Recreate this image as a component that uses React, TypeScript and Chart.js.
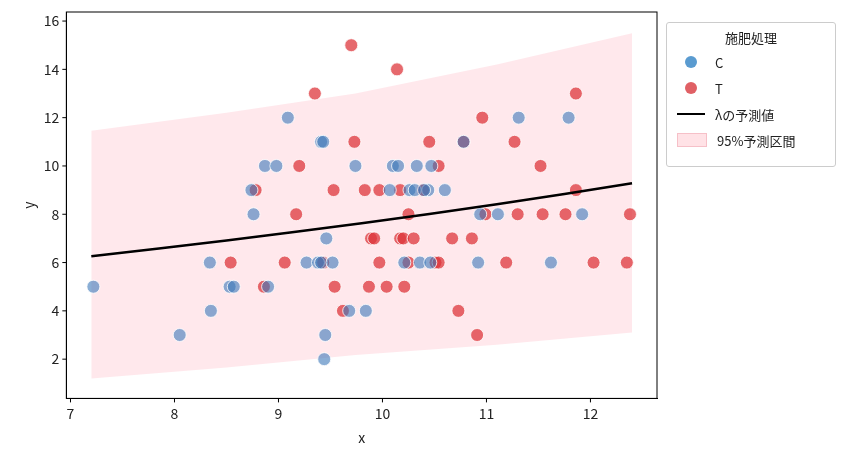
import React, { useEffect, useRef } from "react";
import { Chart, registerables } from "chart.js";
Chart.register(...registerables);

const cX = [9.09,11.31,11.79,9.41,9.43,8.87,8.98,9.74,10.10,10.15,10.33,10.47,8.74,10.07,10.26,10.31,10.44,10.60,8.76,10.94,11.11,11.92,9.46,8.34,9.27,9.38,9.41,9.52,10.21,10.36,10.46,10.92,11.62,7.22,8.53,8.57,8.90,8.35,9.68,9.84,8.05,9.45,9.44,10.78,10.40];
const cY = [12,12,12,11,11,10,10,10,10,10,10,10,9,9,9,9,9,9,8,8,8,8,7,6,6,6,6,6,6,6,6,6,6,5,5,5,5,4,4,4,3,3,2,11,9];
const tX = [9.70,10.14,9.35,11.86,10.96,9.73,10.45,10.78,11.27,9.20,10.54,11.52,8.78,9.53,9.83,9.97,10.17,10.39,11.86,9.17,10.25,10.99,11.30,11.54,11.76,12.38,9.89,9.92,10.17,10.20,10.30,10.67,10.86,8.54,9.06,9.43,9.97,10.25,10.51,10.54,11.19,12.03,12.35,8.86,9.54,9.87,10.04,10.21,9.62,10.73,10.91];
const tY = [15,14,13,13,12,11,11,11,11,10,10,10,9,9,9,9,9,9,9,8,8,8,8,8,8,8,7,7,7,7,7,7,7,6,6,6,6,6,6,6,6,6,6,5,5,5,5,5,4,4,3];
const lineX = [7.2,7.85,8.5,9.15,9.8,10.45,11.1,11.75,12.4];
const beta1 = 1.29, beta2 = 0.0757;
const bandX = [7.2,8.5,9.74,11.1,12.4];
const bandUpper = [11.46,12.2,13.0,14.2,15.5];
const bandLower = [1.2,1.65,2.17,2.6,3.1];
const xTicks = [7,8,9,10,11,12];
const yTicks = [2,4,6,8,10,12,14,16];

const FONT = "'Noto Sans CJK JP', 'DejaVu Sans', sans-serif";
const BLUE = "rgba(60,120,185,0.6)";
const RED = "rgba(222,55,60,0.75)";

export default function App() {
  const ref = useRef<HTMLCanvasElement>(null);
  useEffect(() => {
    const pts = (xs: number[], ys: number[]) => xs.map((x, i) => ({ x, y: ys[i] }));
    const tickFont = { family: FONT, size: 14 };
    const chart = new Chart(ref.current!, {
      type: "scatter",
      data: {
        datasets: [
          { type: "line", data: pts(bandX, bandUpper), borderWidth: 0, pointRadius: 0, backgroundColor: "rgba(255,190,200,0.35)", fill: "+1", order: 5 } as any,
          { type: "line", data: pts(bandX, bandLower), borderWidth: 0, pointRadius: 0, fill: false, order: 5 } as any,
          { data: pts(cX, cY), backgroundColor: BLUE, borderColor: "rgba(255,255,255,0.8)", borderWidth: 1, pointRadius: 6.5, order: 2 },
          { data: pts(tX, tY), backgroundColor: RED, borderColor: "rgba(255,255,255,0.8)", borderWidth: 1, pointRadius: 6.5, order: 2 },
          { type: "line", data: lineX.map(x => ({ x, y: Math.exp(beta1 + beta2 * x) })), borderColor: "#000", borderWidth: 2.5, pointRadius: 0, fill: false, order: 1 } as any,
        ],
      },
      options: {
        animation: false, responsive: false,
        layout: { padding: { left: 16, right: 192, top: 12, bottom: 8 } },
        plugins: { legend: { display: false }, tooltip: { enabled: false } },
        scales: {
          x: {
            type: "linear", min: 6.96, max: 12.64,
            afterBuildTicks: (a: any) => { a.ticks = xTicks.map(v => ({ value: v })); },
            grid: { display: false, tickLength: 4 } as any,
            border: { color: "#000" },
            ticks: { color: "#222", font: tickFont },
            title: { display: true, text: "x", color: "#222", font: tickFont },
          },
          y: {
            min: 0.375, max: 16.375,
            afterBuildTicks: (a: any) => { a.ticks = yTicks.map(v => ({ value: v })); },
            grid: { display: false, tickLength: 4 } as any,
            border: { color: "#000" },
            ticks: { color: "#222", font: tickFont },
            title: { display: true, text: "y", color: "#222", font: tickFont },
          },
        },
      },
      plugins: [{
        id: "frame",
        afterDraw(c: any) {
          const { left, right, top, bottom } = c.chartArea;
          const g = c.ctx; g.save(); g.strokeStyle = "#000"; g.lineWidth = 1;
          g.strokeRect(left, top, right - left, bottom - top);
          g.beginPath();
          xTicks.forEach(v => { const p = c.scales.x.getPixelForValue(v); g.moveTo(p, bottom); g.lineTo(p, bottom + 4); });
          yTicks.forEach(v => { const p = c.scales.y.getPixelForValue(v); g.moveTo(left, p); g.lineTo(left - 4, p); });
          g.stroke(); g.restore();
        },
      }],
    });
    return () => chart.destroy();
  }, []);
  const row = { display: "flex", alignItems: "center", height: 26 } as const;
  const dot = (c: string) => <span style={{ width: 12, height: 12, borderRadius: 6, background: c, margin: "0 18px 0 12px", display: "inline-block" }} />;
  return (
    <div style={{ position: "fixed", left: 0, top: 0, width: 849, height: 458, background: "#fff", fontFamily: FONT, fontSize: 13, color: "#222" }}>
      <canvas ref={ref} width={849} height={458} />
      <div style={{ position: "absolute", left: 666, top: 22, width: 170, height: 145, border: "1px solid #ccc", borderRadius: 3, boxSizing: "border-box", padding: "4px 6px" }}>
        <div style={{ textAlign: "center", height: 22, lineHeight: "22px" }}>施肥処理</div>
        <div style={row}>{dot("#5a9bd0")}C</div>
        <div style={row}>{dot("#e06065")}T</div>
        <div style={row}><span style={{ width: 28, height: 2.5, background: "#000", margin: "0 10px 0 4px", display: "inline-block" }} />λの予測値</div>
        <div style={row}><span style={{ width: 28, height: 12, background: "rgba(255,190,200,0.45)", border: "1px solid rgba(240,170,180,0.6)", margin: "0 10px 0 4px", display: "inline-block" }} />95%予測区間</div>
      </div>
    </div>
  );
}
